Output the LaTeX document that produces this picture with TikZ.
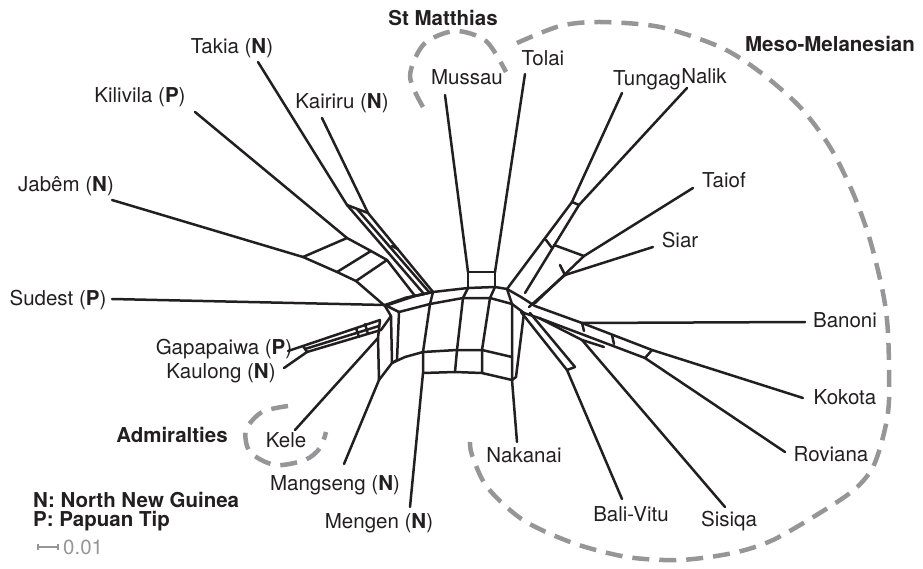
\documentclass[tikz,border=0pt]{standalone}
\usepackage{fontspec}
\setmainfont{TeX Gyre Heros}
\usetikzlibrary{positioning}
\definecolor{ink}{RGB}{35,31,32}
\definecolor{grpgray}{RGB}{150,150,152}

\begin{document}
\begin{tikzpicture}[line cap=round,line join=round,x=1pt,y=-1pt,
  net/.style={line width=2.5pt,draw=ink},
  grp/.style={line width=4.5pt,draw=grpgray,line cap=butt,dash pattern=on 17pt off 10pt},
  lab/.style={font=\fontsize{20.5}{24}\selectfont,text=ink,inner sep=0pt},
  grplab/.style={font=\fontsize{20.5}{24}\selectfont\bfseries,text=ink,inner sep=0pt}]
\useasboundingbox (0,0) rectangle (923,569);
% taxon labels
\node[lab] (takia) at (232,48) {Takia (\textbf{N})};
\node[lab] (kairiru) at (342,103) {Kairiru (\textbf{N})};
\node[lab] (kilivila) at (140,97) {Kilivila (\textbf{P})};
\node[lab] (jabem) at (66,186) {Jabêm (\textbf{N})};
\node[lab] (sudest) at (58,300) {Sudest (\textbf{P})};
\node[lab] (gapapaiwa) at (224,349) {Gapapaiwa (\textbf{P})};
\node[lab] (kaulong) at (221,373) {Kaulong (\textbf{N})};
\node[lab] (kele) at (286,440) {Kele};
\node[lab] (mangseng) at (335,485) {Mangseng (\textbf{N})};
\node[lab] (mengen) at (379,523) {Mengen (\textbf{N})};
\node[lab] (nakanai) at (524,455) {Nakanai};
\node[lab] (balivitu) at (631,514) {Bali-Vitu};
\node[lab] (sisiqa) at (729,521) {Sisiqa};
\node[lab] (roviana) at (831,454) {Roviana};
\node[lab] (kokota) at (845,397) {Kokota};
\node[lab] (banoni) at (845,320) {Banoni};
\node[lab] (siar) at (680,240) {Siar};
\node[lab] (taiof) at (724,180) {Taiof};
\node[lab] (nalik) at (704,76) {Nalik};
\node[lab] (tungag) at (647,80) {Tungag};
\node[lab] (tolai) at (543,58) {Tolai};
\node[lab] (mussau) at (467,77) {Mussau};
% group labels
\node[grplab] (stmatthias) at (443,18) {St Matthias};
\node[grplab] (meso) at (830,44) {Meso-Melanesian};
\node[grplab] (admiralties) at (172,435) {Admiralties};
\node[grplab,anchor=west] (northng) at (33,500) {N: North New Guinea};
\node[grplab,anchor=west] (papuan) at (33,521) {P: Papuan Tip};
% leaf tips
\coordinate (tk0) at (258,62);
\coordinate (kr0) at (322,118);
\coordinate (kv0) at (195,112);
\coordinate (jb0) at (112,200);
\coordinate (sd0) at (112,299);
\coordinate (gp0) at (288,351);
\coordinate (kl0) at (284,368);
\coordinate (ke0) at (295,430);
\coordinate (mgs0) at (344,464);
\coordinate (mgn0) at (410,507);
\coordinate (nk0) at (517,442);
\coordinate (bv0) at (622,499);
\coordinate (sq0) at (725,507);
\coordinate (rv0) at (785,452);
\coordinate (kk0) at (803,398);
\coordinate (bn0) at (805,322);
\coordinate (sr0) at (653,247);
\coordinate (tf0) at (693,188);
\coordinate (nl0) at (687,88);
\coordinate (tg0) at (622,93);
\coordinate (tl0) at (525,74);
\coordinate (ms0) at (445,95);
% inner ends of the leaves
\coordinate (tk) at (347,205);
\coordinate (kr) at (368,213);
\coordinate (kv) at (347,238);
\coordinate (jb) at (303,257);
\coordinate (sd) at (385,305);
\coordinate (gp) at (303,346);
\coordinate (kl) at (307,352);
\coordinate (ke) at (378,338);
\coordinate (mgs) at (379,380);
\coordinate (nk) at (512,380);
\coordinate (bv) at (567,370);
\coordinate (sq) at (582,340);
\coordinate (rv) at (645,358);
\coordinate (kk) at (652,350);
\coordinate (bn) at (582,323);
\coordinate (sr) at (565,275);
\coordinate (tf) at (584,256);
\coordinate (nl) at (579,205);
\coordinate (tg) at (572,202);
\coordinate (tl) at (495,272);
\coordinate (ms) at (468,272);
% central ring
\coordinate (o1) at (433,292);
\coordinate (o2) at (468,288);
\coordinate (o3) at (495,287);
\coordinate (o4) at (507,289);
\coordinate (o5) at (521,297);
\coordinate (o6) at (535,306);
\coordinate (i1) at (430,304);
\coordinate (i2) at (463,298);
\coordinate (i3) at (490,298);
\coordinate (i4) at (512,304);
\coordinate (i5) at (524,313);
\coordinate (b1) at (423,352);
\coordinate (b2) at (457,350);
\coordinate (b3) at (482,350);
\coordinate (b4) at (512,357);
\coordinate (c1) at (423,373);
\coordinate (c2) at (455,372);
\coordinate (c3) at (482,373);
\coordinate (c4) at (512,380);
\coordinate (lj1) at (405,298);
\coordinate (lj2) at (399,312);
\coordinate (lj3) at (391,316);
\coordinate (lj4) at (380,320);
\coordinate (ll) at (392,363);

% leaves
\foreach \t in {tk,kr,kv,jb,sd,gp,kl,ke,mgs,nk,bv,sq,rv,kk,bn,sr,tf,nl,tg,tl,ms}
  \draw[net] (\t0) -- (\t);
\draw[net] (mgn0) -- (c1);

% ring
\draw[net] (lj1) -- (o1) -- (o2) -- (o3) -- (o4) -- (o5) -- (o6);
\draw[net] (lj2) -- (i1) -- (i2) -- (i3) -- (i4) -- (i5);
\draw[net] (mgs) -- (ll) -- (405,357) -- (b1) -- (b2) -- (b3) -- (b4);
\draw[net] (c1) -- (c2) -- (c3) -- (c4);
\draw[net] (o1) -- (i1) -- (b1) -- (c1);
\draw[net] (o2) -- (i2) -- (b2) -- (c2);
\draw[net] (o3) -- (i3) -- (b3) -- (c3);
\draw[net] (o4) -- (i4) -- (b4) -- (c4);
\draw[net] (i5) -- (516,377) -- (c4);
\draw[net] (ms) -- (tl);
\draw[net] (ms) -- (o2);
\draw[net] (tl) -- (o3);
\draw[net] (lj2) -- (397,360) -- (ll);
\draw[net] (lj3) -- (ll);
\draw[net] (lj4) -- (ke) -- (mgs);

% Takia / Kairiru
\draw[net] (tk) -- (kr);
\draw[net] (tk) -- (424,294) -- (lj1);
\draw[net] (357,209) -- (429,292);
\draw[net] (kr) -- (o1);
\draw[net] (424,294) -- (o1);
\draw[net] (392,246) -- (398,249);
% Jabem / Kilivila
\draw[net] (jb) -- (kv);
\draw[net] (jb) -- (337,272) -- (356,281) -- (385,306) -- (lj3);
\draw[net] (kv) -- (371,251) -- (387,260) -- (415,296) -- (424,294);
\draw[net] (337,272) -- (371,251);
\draw[net] (356,281) -- (387,260);
\draw[net] (385,306) -- (415,296);
\draw[net] (sd) -- (lj2);
\draw[net] (sd) -- (lj1);
% Gapapaiwa / Kaulong
\draw[net] (gp) -- (kl);
\draw[net] (gp) -- (lj4);
\draw[net] (kl) -- (381,330) -- (lj3);
\draw[net] (305,349) -- (379,326);
\draw[net] (365,324) -- (368,334);
\draw[net] (356,328) -- (359,337);

% Tungag / Nalik / Taiof / Siar
\draw[net] (tg) -- (nl);
\draw[net] (tg) -- (o4);
\draw[net] (nl) -- (525,293);
\draw[net] (546,240) -- (552,248);
\draw[net] (tf) -- (554,245);
\draw[net] (tf) -- (535,303);
\draw[net] (sr) -- (529,307);
\draw[net] (560,265) -- (sr);
% Banoni / Kokota / Roviana
\draw[net] (o6) -- (bn) -- (kk);
\draw[net] (i5) -- (539,318) -- (rv);
\draw[net] (kk) -- (rv);
\draw[net] (bn) -- (584,331);
\draw[net] (612,335) -- (614,344);
% Sisiqa / Bali-Vitu
\draw[net] (sq) -- (539,318);
\draw[net] (sq) -- (604,347);
\draw[net] (bv) -- (575,367);
\draw[net] (bv) -- (521,312);
\draw[net] (575,367) -- (530,313);

% groups
\draw[grp] plot[smooth] coordinates {(423,107) (410,76) (424,44) (455,31) (486,41) (506,72)};
\draw[grp] plot[smooth] coordinates {(517,43) (560,26) (600,22) (660,27) (720,47) (760,72) (800,107) (830,147) (853,193) (870,240) (883,293) (888,333) (889,400) (884,433) (873,467) (855,489) (823,511) (773,540) (733,553) (680,560) (627,557) (573,543) (523,520) (487,487) (472,455) (470,442)};
\draw[grp] plot[smooth] coordinates {(288,406) (262,412) (246,430) (250,452) (275,465) (305,460) (320,448) (326,432)};

% scale bar
\coordinate (sb1) at (38,547);
\coordinate (sb2) at (58,547);
\draw[grpgray,line width=1.5pt,line cap=butt] (sb1) -- (sb2);
\draw[grpgray,line width=1.2pt,line cap=butt] ([yshift=-3pt]sb1) -- ([yshift=3pt]sb1);
\draw[grpgray,line width=1.2pt,line cap=butt] ([yshift=-3pt]sb2) -- ([yshift=3pt]sb2);
\node[lab,text=grpgray,anchor=west,right=5pt of sb2] (scale) {0.01};
\end{tikzpicture}
\end{document}
